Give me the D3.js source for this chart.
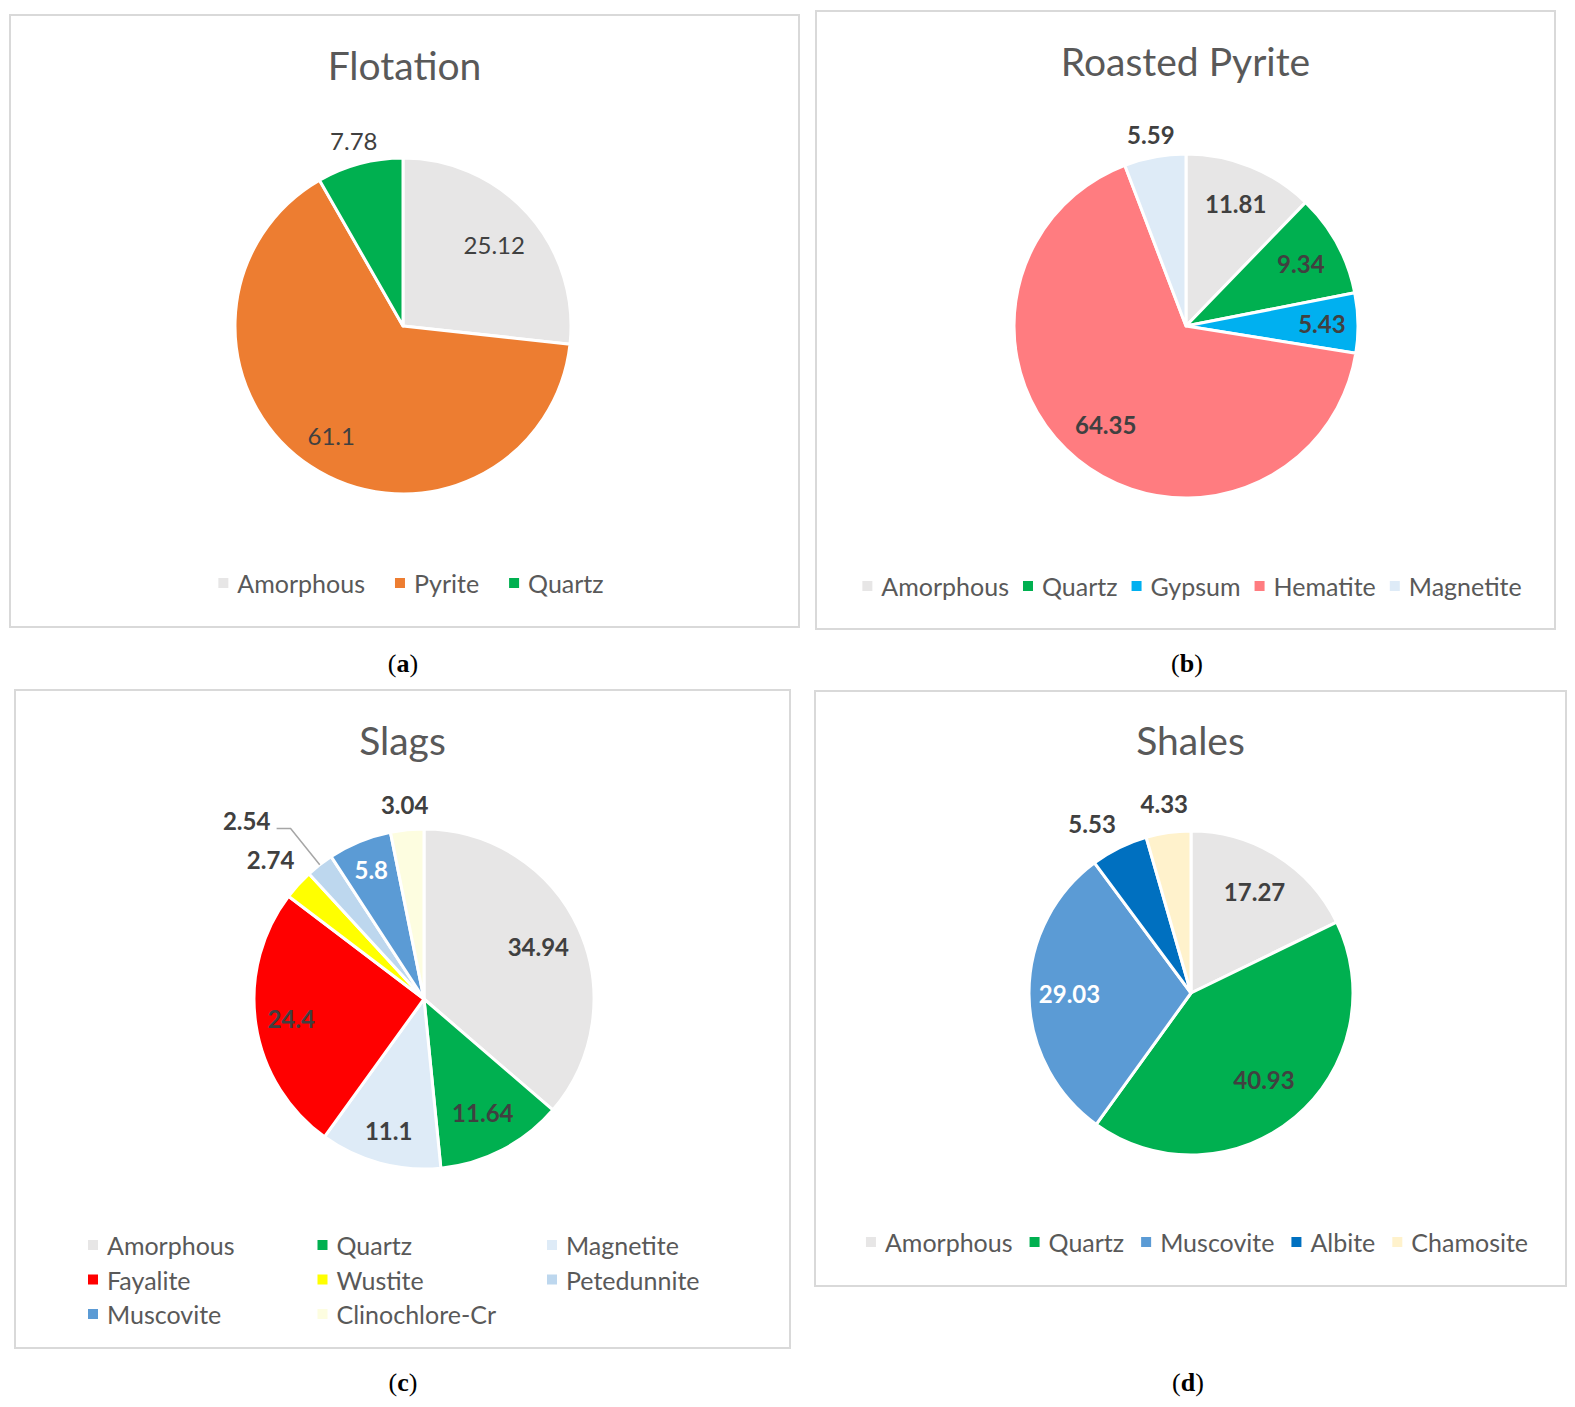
<!DOCTYPE html>
<html>
<head>
<meta charset="utf-8">
<script src="https://cdn.jsdelivr.net/npm/d3@7"></script>
<style>
  body { margin: 0; background: #fff; }
  svg { display: block; }
  .title { font-family: Lato, "Open Sans", sans-serif; fill: #595959; }
  .legend text { font-family: Lato, "Open Sans", sans-serif; fill: #595959; }
  .label { font-family: Lato, "Open Sans", sans-serif; }
  .caption { font-family: "Liberation Serif", "DejaVu Serif", serif; fill: #000; }
</style>
</head>
<body>
<div id="chart"></div>
<script>
// data, one set of arrays per panel
const flotationMinerals = ['Amorphous', 'Pyrite', 'Quartz'];
const flotationValues = [25.12, 61.1, 7.78];
const flotationColours = ['#E7E6E6', '#ED7D31', '#00B050'];

const roastedMinerals = ['Amorphous', 'Quartz', 'Gypsum', 'Hematite', 'Magnetite'];
const roastedValues = [11.81, 9.34, 5.43, 64.35, 5.59];
const roastedColours = ['#E7E6E6', '#00B050', '#00B0F0', '#FF7C80', '#DEEBF7'];

const slagsMinerals = ['Amorphous', 'Quartz', 'Magnetite', 'Fayalite', 'Wustite', 'Petedunnite', 'Muscovite', 'Clinochlore-Cr'];
const slagsValues = [34.94, 11.64, 11.1, 24.4, 2.74, 2.54, 5.8, 3.04];
const slagsColours = ['#E7E6E6', '#00B050', '#DEEBF7', '#FF0000', '#FFFF00', '#BDD7EE', '#5B9BD5', '#FDFDE0'];

const shalesMinerals = ['Amorphous', 'Quartz', 'Muscovite', 'Albite', 'Chamosite'];
const shalesValues = [17.27, 40.93, 29.03, 5.53, 4.33];
const shalesColours = ['#E7E6E6', '#00B050', '#5B9BD5', '#0070C0', '#FFF2CC'];

// layout of each panel (positions only)
var panels = [
  { title: 'Flotation', letter: 'a', names: flotationMinerals, values: flotationValues, colours: flotationColours,
    box: [10, 15, 789, 612], cx: 403, cy: 326, r: 168, titleY: 65, bold: false,
    labelPos: [[0.73, 0], [0.78, 0], [1.14, 0]], white: [],
    legend: { type: 'row', y: 583, centre: 411, gap: 30 }, caption: [403, 663] },
  { title: 'Roasted Pyrite', letter: 'b', names: roastedMinerals, values: roastedValues, colours: roastedColours,
    box: [816, 11, 739, 618], cx: 1186, cy: 326, r: 172, titleY: 61, bold: true,
    labelPos: [[0.77, 0], [0.76, 0], [0.79, 0], [0.74, 0], [1.13, 0]], white: [],
    legend: { type: 'row', y: 586, centre: 1192, gap: 14 }, caption: [1187, 663] },
  { title: 'Slags', letter: 'c', names: slagsMinerals, values: slagsValues, colours: slagsColours,
    box: [15, 690, 775, 658], cx: 424, cy: 999, r: 170, titleY: 740, bold: true,
    labelPos: [[0.74, 0], [0.75, 0], [0.8, 0], [0.79, 0], [1.22, 0], [1.48, -7], [0.82, 0], [1.15, 0]], white: [6],
    leader: 5,
    legend: { type: 'grid', x0: 88, colW: 229.5, y0: 1245, rowH: 34.5, cols: 3 }, caption: [403, 1382] },
  { title: 'Shales', letter: 'd', names: shalesMinerals, values: shalesValues, colours: shalesColours,
    box: [815, 691, 751, 595], cx: 1191, cy: 993, r: 162, titleY: 740, bold: true,
    labelPos: [[0.74, 0], [0.70, 0], [0.75, 0], [1.21, -4], [1.18, 0]], white: [2],
    legend: { type: 'row', y: 1242, centre: 1197, gap: 17 }, caption: [1188, 1382] }
];

var width = 1575, height = 1407;
var svg = d3.select('#chart').append('svg')
    .attr('width', width)
    .attr('height', height);

var pie = d3.pie().sort(null).value(d => d.value);

panels.forEach(function (p) {
    var rows = p.names.map((n, i) => ({ name: n, value: p.values[i], colour: p.colours[i], i: i }));
    var g = svg.append('g');

    g.append('rect')
        .attr('x', p.box[0]).attr('y', p.box[1])
        .attr('width', p.box[2]).attr('height', p.box[3])
        .attr('fill', 'none')
        .attr('stroke', '#D9D9D9')
        .attr('stroke-width', 2);

    g.append('text')
        .attr('class', 'title')
        .attr('x', p.box[0] + p.box[2] / 2)
        .attr('y', p.titleY)
        .attr('text-anchor', 'middle')
        .attr('dominant-baseline', 'central')
        .style('font-size', '39px')
        .text(p.title);

    var arc = d3.arc().innerRadius(0).outerRadius(p.r);
    var arcs = pie(rows);
    var pg = g.append('g').attr('transform', `translate(${p.cx},${p.cy})`);

    pg.selectAll('path')
        .data(arcs)
        .enter()
        .append('path')
            .attr('d', arc)
            .attr('fill', d => d.data.colour)
            .attr('stroke', '#fff')
            .attr('stroke-width', 3)
            .attr('stroke-linejoin', 'round');

    // label position: radius factor along the slice centre, plus a small angle shift
    var labelXY = function (d) {
        var lp = p.labelPos[d.index];
        var a = (d.startAngle + d.endAngle) / 2 + lp[1] * Math.PI / 180;
        var rr = p.r * lp[0];
        return [rr * Math.sin(a), -rr * Math.cos(a)];
    };

    if (p.leader !== undefined) {
        var d = arcs[p.leader];
        var xy = labelXY(d);
        var a = (d.startAngle + d.endAngle) / 2;
        var start = [xy[0] + 30, xy[1] + 8];
        pg.append('path')
            .attr('d', d3.line()([start, [start[0] + 14, start[1]], [p.r * Math.sin(a), -p.r * Math.cos(a)]]))
            .attr('fill', 'none')
            .attr('stroke', '#A6A6A6')
            .attr('stroke-width', 1.5);
    }

    pg.selectAll('text.label')
        .data(arcs)
        .enter()
        .append('text')
            .attr('class', 'label')
            .attr('x', d => labelXY(d)[0])
            .attr('y', d => labelXY(d)[1])
            .attr('text-anchor', 'middle')
            .attr('dominant-baseline', 'central')
            .style('font-size', '24px')
            .style('font-weight', p.bold ? 700 : 400)
            .attr('fill', d => p.white.includes(d.index) ? '#fff' : '#404040')
            .text(d => d.data.value);

    // legend
    var lg = g.append('g').attr('class', 'legend');
    var items = lg.selectAll('g')
        .data(rows)
        .enter()
        .append('g');
    items.append('rect')
        .attr('width', 10).attr('height', 10)
        .attr('y', -5)
        .attr('fill', d => d.colour);
    items.append('text')
        .attr('x', 19)
        .attr('dominant-baseline', 'central')
        .style('font-size', '25px')
        .text(d => d.name);

    if (p.legend.type === 'row') {
        var widths = [];
        items.each(function () { widths.push(this.getBBox().width); });
        var total = d3.sum(widths) + p.legend.gap * (widths.length - 1);
        var x = p.legend.centre - total / 2;
        items.attr('transform', function (d, i) {
            var t = `translate(${x},${p.legend.y})`;
            x += widths[i] + p.legend.gap;
            return t;
        });
    } else {
        items.attr('transform', (d, i) =>
            `translate(${p.legend.x0 + (i % p.legend.cols) * p.legend.colW},${p.legend.y0 + Math.floor(i / p.legend.cols) * p.legend.rowH})`);
    }

    var cap = g.append('text')
        .attr('class', 'caption')
        .attr('x', p.caption[0])
        .attr('y', p.caption[1])
        .attr('text-anchor', 'middle')
        .attr('dominant-baseline', 'central')
        .style('font-size', '26px');
    cap.append('tspan').text('(');
    cap.append('tspan').style('font-weight', 700).text(p.letter);
    cap.append('tspan').text(')');
});
</script>
</body>
</html>
